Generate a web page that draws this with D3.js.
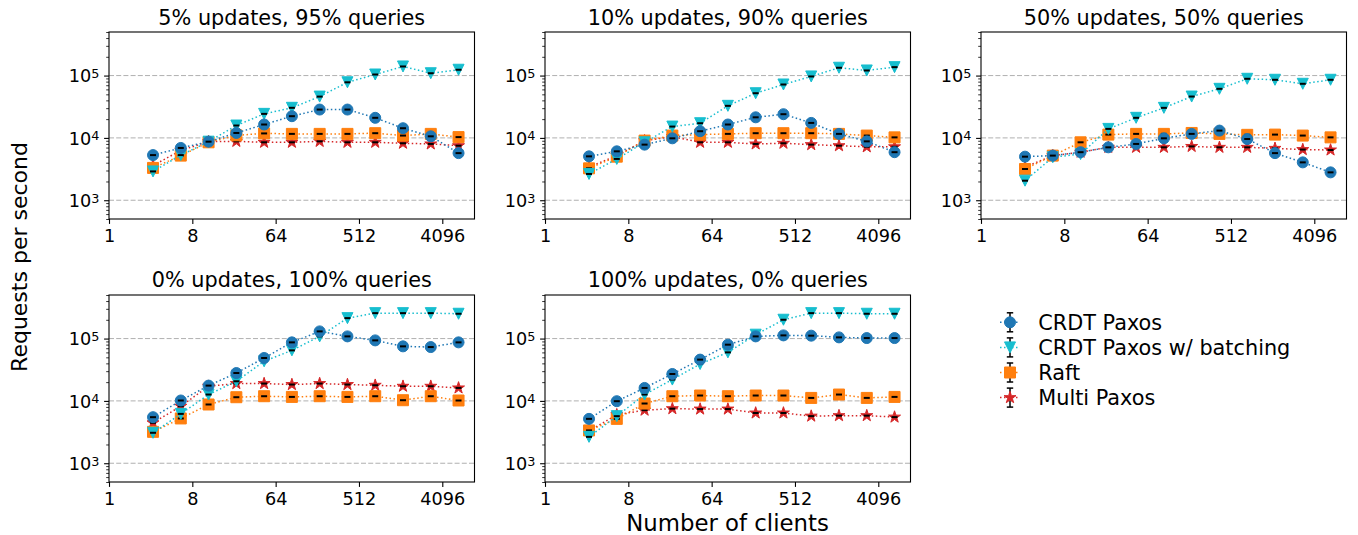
<!DOCTYPE html>
<html><head><meta charset="utf-8">
<script src="https://cdn.jsdelivr.net/npm/d3@7"></script>
<style>
body{margin:0;background:#fff}
svg{display:block}
text{font-family:"DejaVu Sans",sans-serif;fill:#000}
</style>
</head><body>
<svg id="chart" width="1358" height="535"></svg>
<script>
// ---------- data ----------
const clients = [3, 6, 12, 24, 48, 96, 192, 384, 768, 1536, 3072, 6144];
const xTickValues = [1, 8, 64, 512, 4096];
const yTickValues = [1e3, 1e4, 1e5];
const yTickExponents = ["3", "4", "5"];
const xDomain = [1, 9150];
const yDomain = [500, 5e5];
const seriesNames = ["CRDT Paxos", "CRDT Paxos w/ batching", "Raft", "Multi Paxos"];
const panelTitles = ["5% updates, 95% queries", "10% updates, 90% queries", "50% updates, 50% queries",
                     "0% updates, 100% queries", "100% updates, 0% queries"];

// 5% updates
const p1Crdt  = [5300, 6900, 8700, 12000, 16400, 22300, 28500, 28500, 21000, 14300, 10600, 5700];
const p1Batch = [2900, 5300, 8700, 15800, 24300, 30400, 46000, 78000, 104000, 140000, 109000, 124000];
const p1Raft  = [3300, 5200, 8500, 11000, 11800, 11600, 11600, 11600, 11900, 10900, 11600, 10300];
const p1Multi = [3600, 6300, 8700, 8800, 8500, 8500, 8800, 8500, 8500, 8200, 8000, 7500];
// 10% updates
const p2Crdt  = [5060, 6090, 7800, 9850, 12800, 16400, 21400, 24000, 17400, 11600, 8800, 5900];
const p2Batch = [2640, 4600, 8500, 15200, 17200, 32700, 52100, 71900, 96800, 133500, 120700, 136500];
const p2Raft  = [3250, 5000, 9050, 10900, 11300, 11600, 11900, 11900, 11900, 11600, 10900, 10200];
const p2Multi = [3400, 5200, 9000, 10500, 8500, 8500, 8000, 8200, 7800, 7500, 7200, 7200];
// 50% updates
const p3Crdt  = [5000, 5200, 5900, 7060, 8000, 9850, 11600, 13100, 9600, 5700, 4050, 2800];
const p3Batch = [2060, 4900, 5500, 13950, 21000, 30350, 46100, 61300, 88800, 85600, 73800, 85600];
const p3Raft  = [3170, 5200, 8500, 11300, 11600, 11600, 12000, 11600, 11200, 11300, 10900, 10200];
const p3Multi = [3400, 5200, 5900, 7060, 7060, 7060, 7300, 7060, 7060, 6800, 6500, 6400];
// 0% updates
const p4Crdt  = [5480, 10150, 17600, 28000, 48800, 86900, 130400, 108400, 93500, 75000, 73100, 86900];
const p4Batch = [3080, 6190, 12650, 20650, 43200, 64700, 108400, 212800, 255900, 255900, 255900, 250000];
const p4Raft  = [3190, 5230, 8760, 11460, 11890, 11590, 11890, 11590, 11890, 10260, 11890, 10150];
const p4Multi = [4450, 8220, 17180, 18970, 18970, 18300, 18970, 18300, 17830, 17180, 17180, 16140];
// 100% updates
const p5Crdt  = [5150, 9890, 16140, 27040, 45950, 79800, 108400, 112500, 111300, 104500, 101900, 101900];
const p5Batch = [2650, 5690, 12650, 22000, 39100, 60100, 115400, 200500, 255900, 255900, 250000, 250000];
const p5Raft  = [3360, 5150, 9080, 11890, 12200, 11890, 12200, 12200, 11170, 12650, 11170, 11590];
const p5Multi = [3300, 6000, 7100, 7500, 7400, 7400, 6400, 6400, 5700, 5800, 5800, 5500];

// ---------- styles / layout ----------
const colors = ["#1f77b4", "#17becf", "#ff7f0e", "#d62728"];
const markerKinds = ["circle", "triangle", "square", "star"];
const panelValues = [
  [p1Crdt, p1Batch, p1Raft, p1Multi],
  [p2Crdt, p2Batch, p2Raft, p2Multi],
  [p3Crdt, p3Batch, p3Raft, p3Multi],
  [p4Crdt, p4Batch, p4Raft, p4Multi],
  [p5Crdt, p5Batch, p5Raft, p5Multi]
];
const colLefts = [109, 545, 981];
const rowTops = [32, 295];
const PW = 365.5, PH = 187;

const svg = d3.select("#chart");

function starPath(R) {
  const r = R * 0.381966;
  let pts = [];
  for (let i = 0; i < 10; i++) {
    const a = -Math.PI / 2 + i * Math.PI / 5;
    const rad = i % 2 === 0 ? R : r;
    pts.push([rad * Math.cos(a), rad * Math.sin(a)]);
  }
  return "M" + pts.map(p => p[0].toFixed(2) + "," + p[1].toFixed(2)).join("L") + "Z";
}
function markerPath(kind) {
  switch (kind) {
    case "circle": return d3.symbol(d3.symbolCircle, Math.PI * 5.5 * 5.5)();
    case "triangle": return "M0,5.5L-5.5,-5.5L5.5,-5.5Z";
    case "square": return "M-5.5,-5.5H5.5V5.5H-5.5Z";
    case "star": return starPath(6.3);
  }
}

const x = d3.scaleLog().base(2).domain(xDomain).range([0, PW]);
const y = d3.scaleLog().domain(yDomain).range([PH, 0]);

const minorTicks = [];
for (let e = 2; e <= 5; e++) for (let m = 2; m <= 9; m++) {
  const v = m * Math.pow(10, e);
  if (v >= yDomain[0] && v <= yDomain[1]) minorTicks.push(v);
}

panelValues.forEach((vals, pi) => {
  const row = pi < 3 ? 0 : 1, col = pi < 3 ? pi : pi - 3;
  const g = svg.append("g").attr("transform", `translate(${colLefts[col]},${rowTops[row]})`);

  // grid
  g.append("g").selectAll("line").data(yTickValues).join("line")
    .attr("x1", 0).attr("x2", PW)
    .attr("y1", d => y(d)).attr("y2", d => y(d))
    .attr("stroke", "#b0b0b0").attr("stroke-width", 1).attr("stroke-dasharray", "5,2.2");

  // series (draw last legend entry first so CRDT Paxos ends on top)
  [3, 2, 1, 0].forEach(si => {
    const data = clients.map((c, i) => [c, vals[si][i]]);
    const sg = g.append("g");
    sg.append("path").datum(data)
      .attr("d", d3.line().x(d => x(d[0])).y(d => y(d[1])))
      .attr("fill", "none").attr("stroke", colors[si]).attr("stroke-width", 1.5)
      .attr("stroke-dasharray", "1.5,2.5");
    sg.selectAll("path.m").data(data).join("path").attr("class", "m")
      .attr("transform", d => `translate(${x(d[0])},${y(d[1])})`)
      .attr("d", markerPath(markerKinds[si]))
      .attr("fill", colors[si]).attr("stroke", colors[si]).attr("stroke-width", 1);
    sg.selectAll("line.cap").data(data).join("line").attr("class", "cap")
      .attr("x1", d => x(d[0]) - 3).attr("x2", d => x(d[0]) + 3)
      .attr("y1", d => y(d[1])).attr("y2", d => y(d[1]))
      .attr("stroke", "#000").attr("stroke-width", 2);
  });

  // frame
  g.append("rect").attr("width", PW).attr("height", PH)
    .attr("fill", "none").attr("stroke", "#000").attr("stroke-width", 1.1);

  // x axis
  const xa = g.append("g").attr("transform", `translate(0,${PH})`)
    .call(d3.axisBottom(x).tickValues(xTickValues).tickFormat(d3.format("d")).tickSize(4.9).tickPadding(5.5));
  xa.select(".domain").remove();
  xa.selectAll("line").attr("stroke-width", 1.1);
  xa.selectAll("text").attr("font-size", "17.7px").attr("font-family", "DejaVu Sans");

  // y axis minor
  const ym = g.append("g").call(d3.axisLeft(y).tickValues(minorTicks).tickFormat("").tickSize(2.8));
  ym.select(".domain").remove();
  ym.selectAll("line").attr("stroke-width", 0.8);
  // y axis major
  const ya = g.append("g").call(d3.axisLeft(y).tickValues(yTickValues).tickFormat("").tickSize(4.9));
  ya.select(".domain").remove();
  ya.selectAll("line").attr("stroke-width", 1.1);
  ya.selectAll(".tick").each(function(d, i) {
    const t = d3.select(this).append("text")
      .attr("x", -9.5).attr("y", 0).attr("dy", "6.4px")
      .attr("text-anchor", "end").attr("font-size", "17.7px").attr("fill", "#000");
    t.append("tspan").text("10");
    t.append("tspan").attr("dy", "-4.6px").attr("font-size", "12.8px").text(yTickExponents[i]);
  });

  // title
  g.append("text").attr("x", PW / 2).attr("y", row === 0 ? -7 : -8.3)
    .attr("text-anchor", "middle").attr("font-size", "20.8px").text(panelTitles[pi]);
});

// axis labels
svg.append("text").attr("x", 727.5).attr("y", 530.5).attr("text-anchor", "middle")
  .attr("font-size", "22.8px").text("Number of clients");
svg.append("text").attr("transform", "translate(27,257) rotate(-90)").attr("text-anchor", "middle")
  .attr("font-size", "22px").text("Requests per second");

// legend
const lg = svg.append("g");
seriesNames.forEach((name, si) => {
  const cy = 322.3 + si * 25.1, cx = 1010;
  const e = lg.append("g");
  e.append("line").attr("x1", cx - 10).attr("x2", cx + 10).attr("y1", cy).attr("y2", cy)
    .attr("stroke", colors[si]).attr("stroke-width", 1.5).attr("stroke-dasharray", "1.5,2.5");
  e.append("line").attr("x1", cx).attr("x2", cx).attr("y1", cy - 9.5).attr("y2", cy + 9.5)
    .attr("stroke", "#000").attr("stroke-width", 1.5);
  [-9.5, 9.5].forEach(dy => e.append("line").attr("x1", cx - 3.2).attr("x2", cx + 3.2)
    .attr("y1", cy + dy).attr("y2", cy + dy).attr("stroke", "#000").attr("stroke-width", 1.5));
  e.append("path").attr("transform", `translate(${cx},${cy})`).attr("d", markerPath(markerKinds[si]))
    .attr("fill", colors[si]).attr("stroke", colors[si]).attr("stroke-width", 1);
  e.append("text").attr("x", 1038.3).attr("y", cy).attr("dy", "0.36em")
    .attr("font-size", "20.8px").text(name);
});
</script>
</body></html>
